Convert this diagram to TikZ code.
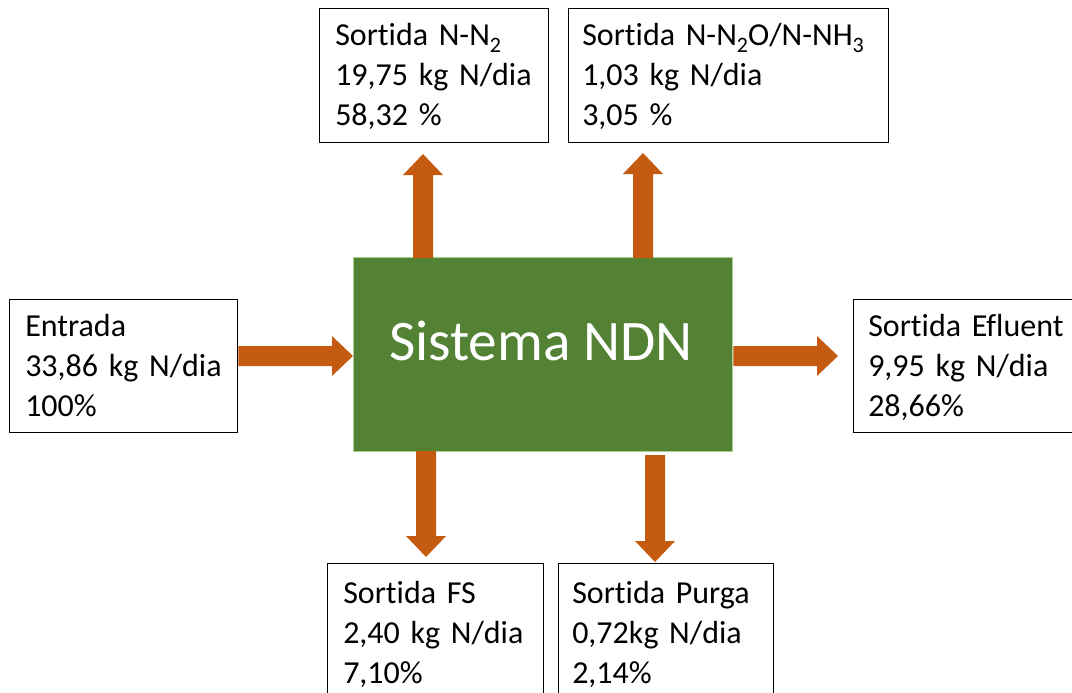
\documentclass[tikz,border=0pt]{standalone}
\usepackage{fontspec}
\setmainfont{Carlito}[Ligatures=NoCommon]
\usetikzlibrary{calc}
\definecolor{arrowor}{HTML}{C55A11}
\definecolor{sysgreen}{HTML}{548235}
\definecolor{sysedge}{HTML}{A9D18E}
\newcommand\subsc[1]{\raisebox{-5.5pt}{\fontsize{16.5pt}{16.5pt}\selectfont #1}}
\newcommand\blockarrow[2]{%
  \coordinate (hb) at ($(#2)!15.75pt!(#1)$);
  \fill[arrowor] ($(#1)!7.5pt!90:(#2)$) -- ($(hb)!7.5pt!90:(#2)$) -- ($(hb)!15pt!90:(#2)$) -- (#2)
    -- ($(hb)!15pt!-90:(#2)$) -- ($(hb)!7.5pt!-90:(#2)$) -- ($(#1)!7.5pt!-90:(#2)$) -- cycle;}
\begin{document}
\begin{tikzpicture}[x=0.75pt,y=-0.75pt,
  infobox/.style={draw=black,line width=1.1pt,fill=white,inner sep=0pt,anchor=north west},
  infotext/.style={inner sep=0pt,anchor=base west,text width=300pt,align=left,
    font=\fontsize{24pt}{30pt}\selectfont}]
\clip (0,0) rectangle (1072,693);
\fill[white] (0,0) rectangle (1072,693);
% central system
\node[draw=sysedge,line width=1pt,fill=sysgreen,minimum width=284.25pt,minimum height=145.5pt,inner sep=0pt,anchor=north west] (sys) at (353,257) {};
\node[text=white,inner sep=0pt,anchor=base,font=\fontsize{43pt}{50pt}\selectfont] (systxt) at (541,360) {Sistema NDN};
% boxes
\node[infobox,minimum width=171.75pt,minimum height=100.5pt] (n2) at (319,8) {};
\node[infotext] (n2t) at (335,45) {Sortida N-N\subsc{2}\\19,75 kg N/dia\\58,32 \%};
\node[infobox,minimum width=240pt,minimum height=100.5pt] (n2o) at (568,8) {};
\node[infotext] (n2ot) at (582,45) {Sortida N-N\subsc{2}O/N-NH\subsc{3}\\1,03 kg N/dia\\3,05 \%};
\node[infobox,minimum width=171pt,minimum height=99.75pt] (ent) at (9,299) {};
\node[infotext] (entt) at (25,336) {Entrada\\33,86 kg N/dia\\100\%};
\node[infobox,minimum width=180pt,minimum height=99.75pt] (efl) at (853,299) {};
\node[infotext] (eflt) at (868,336) {Sortida Efluent\\9,95 kg N/dia\\28,66\%};
\node[infobox,minimum width=162pt,minimum height=120pt] (fs) at (327,563) {};
\node[infotext] (fst) at (343,603) {Sortida FS\\2,40 kg N/dia\\7,10\%};
\node[infobox,minimum width=161.25pt,minimum height=120pt] (pur) at (558,563) {};
\node[infotext] (purt) at (572,603) {Sortida Purga\\0,72kg N/dia\\2,14\%};
% arrow end points
\coordinate (a1s) at (ent.east |- 0,356);
\coordinate (a1e) at (sys.west |- 0,356);
\coordinate (a2s) at (sys.east |- 0,356);
\coordinate (a2e) at (838,356);
\coordinate (a3s) at (423,258);
\coordinate (a3e) at (423,154);
\coordinate (a4s) at (643,258);
\coordinate (a4e) at (643,153);
\coordinate (a5s) at (426,451);
\coordinate (a5e) at (426,557);
\coordinate (a6s) at (655,455);
\coordinate (a6e) at (655,562);
\blockarrow{a1s}{a1e}
\blockarrow{a2s}{a2e}
\blockarrow{a3s}{a3e}
\blockarrow{a4s}{a4e}
\blockarrow{a5s}{a5e}
\blockarrow{a6s}{a6e}
\end{tikzpicture}
\end{document}
